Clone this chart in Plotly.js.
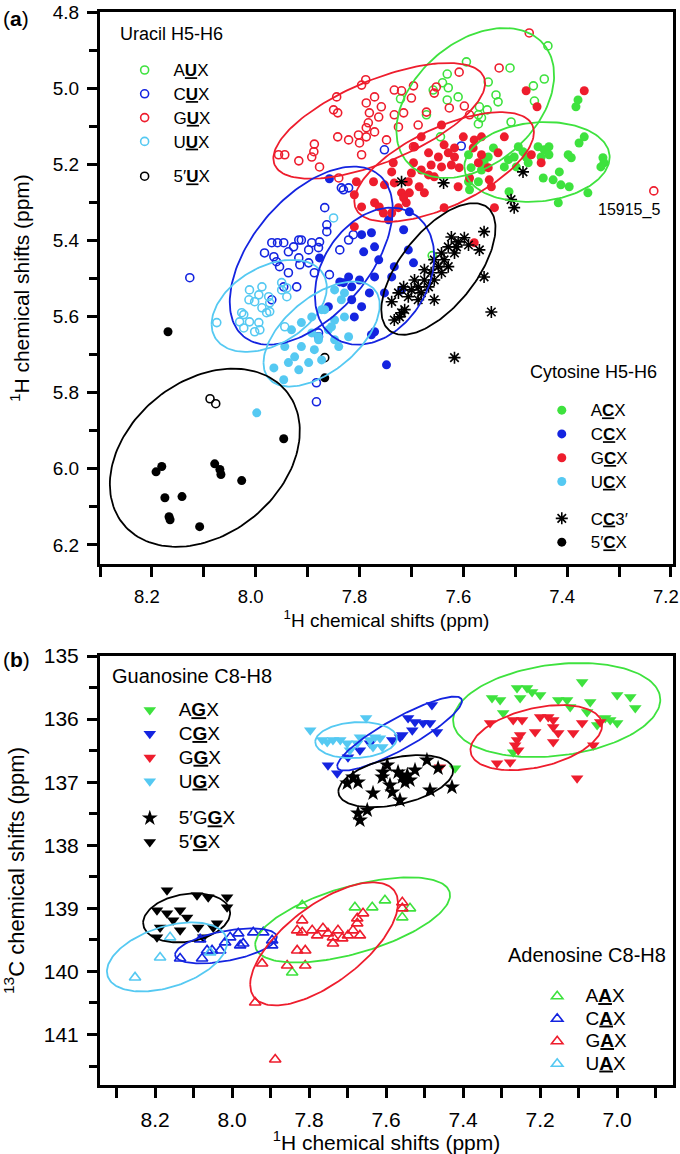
<!DOCTYPE html>
<html>
<head>
<meta charset="utf-8">
<script src="https://cdn.plot.ly/plotly-3.0.1.min.js"></script>
<style>
  body { margin: 0; background: white; }
  #chart { width: 680px; height: 1154px; }
</style>
</head>
<body>
<div id="chart"></div>
<script>
// ---- panel (a): uracil H5-H6 (open circles) ----
const aux_x = [7.594,7.437,7.631,7.640,7.629,7.610,7.631,7.552,7.537,7.533,7.510,7.465,7.444,7.463,7.569,7.554,7.571,7.565,7.571,7.508,7.644,7.671,7.721,7.658,7.660];
const aux_y = [4.931,4.889,4.963,4.986,4.999,5.023,5.031,4.984,5.018,5.036,4.947,4.994,4.976,5.034,5.049,5.057,5.070,5.078,5.094,5.089,5.128,5.070,5.028,5.005,5.440];
const cux_x = [7.835,7.821,7.867,7.863,7.863,7.969,7.958,7.946,7.983,7.965,7.960,7.937,7.927,7.917,7.912,7.898,7.892,7.877,7.879,7.917,7.898,7.915,7.937,7.887,7.858,7.921,8.127,7.954,7.838,7.879,7.946,7.969,7.883,7.883,7.879,7.752,7.604,7.831,7.812,7.821];
const cux_y = [5.262,5.262,5.314,5.359,5.377,5.406,5.406,5.406,5.433,5.443,5.456,5.430,5.417,5.399,5.399,5.425,5.406,5.404,5.419,5.446,5.459,5.464,5.485,5.485,5.490,5.522,5.498,5.469,5.425,5.643,5.522,5.556,5.774,5.824,5.653,5.162,5.152,5.267,5.385,5.399];
const gux_x = [7.844,7.850,7.842,7.842,7.887,7.888,7.892,7.956,7.944,7.917,7.877,7.840,7.473,7.531,7.608,7.788,7.796,7.733,7.719,7.696,7.652,7.656,7.771,7.787,7.758,7.700,7.671,7.627,7.598,7.715,7.733,7.781,7.763,7.783,7.787,7.802,7.821,7.800,7.787,7.771,7.748,7.687,7.696,7.796,7.725,7.588,7.233];
const gux_y = [5.023,5.057,5.065,5.128,5.147,5.167,5.181,5.175,5.175,5.191,5.207,5.236,4.855,4.947,4.958,4.978,4.992,5.005,5.007,4.994,4.997,5.013,5.023,5.039,5.049,5.026,5.063,5.052,5.047,5.065,5.070,5.065,5.076,5.091,5.104,5.123,5.136,5.144,5.128,5.115,5.136,5.097,5.154,5.175,5.102,5.070,5.270];
const uux_x = [8.012,7.994,7.975,7.950,7.940,8.013,8.002,7.973,7.988,7.979,8.023,8.012,8.031,7.994,8.075,8.023,8.002,7.850,7.950,7.988,7.940,8.027,7.973,7.992,7.944];
const uux_y = [5.530,5.543,5.548,5.530,5.548,5.556,5.561,5.564,5.577,5.590,5.595,5.614,5.614,5.616,5.616,5.630,5.640,5.341,5.511,5.522,5.525,5.590,5.587,5.635,5.627];
const u5_x = [8.088,8.077,7.867];
const u5_y = [5.816,5.829,5.708];

// ---- panel (a): cytosine H5-H6 (filled circles, asterisks) ----
const acx_x = [7.379,7.383,7.367,7.377,7.456,7.444,7.435,7.435,7.450,7.398,7.392,7.331,7.329,7.335,7.415,7.446,7.427,7.412,7.396,7.360,7.417,7.512,7.494,7.485,7.479,7.502,7.513,7.521,7.498,7.542,7.552,7.560,7.565,7.590,7.585,7.590,7.571,7.588,7.475];
const acx_y = [5.031,5.049,5.128,5.144,5.154,5.162,5.154,5.175,5.181,5.175,5.183,5.183,5.196,5.207,5.220,5.236,5.241,5.254,5.259,5.275,5.301,5.272,5.154,5.167,5.181,5.181,5.188,5.207,5.207,5.157,5.181,5.196,5.215,5.175,5.209,5.246,5.246,5.267,5.196];
const ccx_x = [7.858,7.838,7.877,7.860,7.704,7.715,7.744,7.796,7.777,7.792,7.771,7.763,7.733,7.706,7.696,7.738,7.771,7.800,7.815,7.831,7.752,7.719,7.781,7.771,7.777,7.748,7.815,7.796,7.810,7.821];
const ccx_y = [5.238,5.509,5.446,5.574,5.325,5.372,5.346,5.385,5.380,5.430,5.417,5.451,5.469,5.425,5.459,5.496,5.496,5.504,5.522,5.511,5.538,5.530,5.538,5.640,5.648,5.727,5.556,5.574,5.601,5.496];
const gcx_x = [7.479,7.458,7.367,7.600,7.579,7.565,7.521,7.533,7.565,7.581,7.571,7.552,7.550,7.546,7.540,7.450,7.469,7.617,7.617,7.637,7.629,7.623,7.642,7.648,7.642,7.681,7.694,7.667,7.662,7.681,7.667,7.696,7.700,7.706,7.685,7.675,7.704,7.719,7.715,7.710,7.725,7.738,7.733,7.752,7.771,7.762,7.754,7.738,7.773,7.806,7.810,7.796,7.810,7.735,7.608,7.588,7.637,7.656,7.610,7.579];
const gcx_y = [5.007,5.049,5.007,5.128,5.136,5.128,5.128,5.170,5.175,5.157,5.196,5.209,5.241,5.259,5.314,5.196,5.175,5.181,5.157,5.149,5.170,5.202,5.207,5.181,5.097,5.128,5.154,5.170,5.202,5.215,5.228,5.196,5.223,5.246,5.259,5.275,5.275,5.275,5.288,5.301,5.314,5.220,5.249,5.254,5.301,5.312,5.328,5.328,5.246,5.246,5.280,5.312,5.364,5.196,5.209,5.236,5.314,5.233,5.259,5.406];
const ucx_x = [7.944,7.931,7.912,7.892,7.873,7.937,7.917,7.898,7.887,7.879,7.860,7.848,7.965,7.946,7.873,7.848,7.998,7.892,7.925,7.912,7.829,7.867,7.835,7.829,7.854,7.879,7.840,7.821,7.848];
const ucx_y = [5.679,5.635,5.616,5.601,5.582,5.721,5.740,5.721,5.687,5.661,5.635,5.609,5.735,5.766,5.714,5.661,5.853,5.643,5.706,5.679,5.538,5.582,5.556,5.601,5.627,5.653,5.679,5.653,5.530];
const cc3_x = [7.719,7.638,7.485,7.508,7.502,7.560,7.569,7.560,7.546,7.656,7.738,7.719,7.623,7.610,7.598,7.629,7.642,7.617,7.637,7.648,7.629,7.662,7.642,7.675,7.656,7.687,7.667,7.700,7.681,7.706,7.687,7.725,7.715,7.694,7.675,7.656,7.613,7.590,7.723,7.733,7.713,7.617];
const cc3_y = [5.246,5.249,5.220,5.293,5.314,5.377,5.425,5.496,5.588,5.556,5.561,5.590,5.391,5.404,5.393,5.417,5.433,5.433,5.451,5.469,5.469,5.485,5.485,5.504,5.504,5.522,5.522,5.530,5.538,5.548,5.556,5.538,5.522,5.504,5.477,5.451,5.417,5.412,5.601,5.609,5.582,5.708];
const c5_x = [8.169,7.867,8.192,8.181,8.175,8.142,8.167,8.165,8.108,8.079,8.069,8.067,8.027,7.946];
const c5_y = [5.640,5.761,6.008,5.994,6.076,6.073,6.126,6.134,6.152,5.987,6.002,6.015,6.031,5.921];

// ---- panel (b): guanosine C8-H8 (filled down triangles, stars) ----
const agx_x = [7.325,7.304,7.260,7.234,7.221,7.200,7.252,7.091,7.153,7.130,7.122,7.070,7.000,6.966,6.953,7.078,7.031,7.018,7.000,7.052,7.421,7.296,7.270];
const agx_y = [135.667,135.698,135.508,135.508,135.571,135.619,135.667,135.413,135.698,135.698,135.810,135.730,135.619,135.651,135.825,135.889,135.984,136.016,136.063,136.095,136.778,135.905,136.524];
const cgx_x = [7.481,7.543,7.525,7.504,7.486,7.468,7.532,7.558,7.584,7.642,7.668,7.699,7.751,7.727,7.564];
const cgx_y = [135.778,135.984,136.048,136.063,136.063,136.206,136.175,136.254,136.333,136.381,136.492,136.603,136.730,136.857,136.286];
const ggx_x = [7.330,7.270,7.247,7.200,7.179,7.166,7.213,7.252,7.260,7.265,7.257,7.166,7.153,7.166,7.114,7.091,7.044,7.062,7.312,7.278,7.104,7.460];
const ggx_y = [136.063,136.016,136.016,135.968,135.968,136.016,136.206,136.254,136.333,136.413,136.492,136.127,136.222,136.365,136.222,136.063,136.048,136.413,136.698,136.683,136.937,136.762];
const ugx_x = [7.797,7.652,7.753,7.738,7.719,7.701,7.675,7.642,7.616,7.634,7.610,7.766,7.629,7.668,7.694];
const ugx_y = [136.175,135.984,136.365,136.333,136.333,136.381,136.381,136.333,136.302,136.444,136.444,136.333,136.286,136.286,136.492];
const g5g_x = [7.686,7.673,7.608,7.597,7.569,7.558,7.545,7.538,7.551,7.525,7.590,7.584,7.634,7.564,7.494,7.465,7.486,7.429,7.649,7.668,7.701,7.610,7.673];
const g5g_y = [136.921,137.000,136.841,136.730,136.841,136.921,136.889,136.968,137.000,136.810,137.048,137.159,137.175,137.286,136.651,136.778,137.127,137.079,137.444,137.603,137.016,136.921,137.492];
const g5_x = [8.169,8.091,8.062,8.013,8.013,8.195,8.169,8.135,8.153,8.117,8.088,8.049,8.187,8.135,8.195,8.075,8.039];
const g5_y = [138.714,138.794,138.825,138.825,138.984,139.032,139.079,139.032,139.190,139.143,139.302,139.302,139.302,139.349,139.460,139.460,139.238];

// ---- panel (b): adenosine C8-H8 (open up triangles) ----
const aax_x = [7.818,7.681,7.636,7.603,7.538,7.558,7.844];
const aax_y = [138.952,138.984,138.984,138.873,139.000,139.143,140.016];
const cax_x = [8.135,8.083,8.078,8.052,8.031,8.018,8.005,7.984,7.971,7.945,7.919,7.896,7.896,8.065,7.979];
const cax_y = [139.794,139.492,139.794,139.667,139.667,139.540,139.460,139.397,139.556,139.381,139.381,139.508,139.587,139.667,139.587];
const gax_x = [7.818,7.831,7.818,7.792,7.779,7.764,7.751,7.738,7.725,7.714,7.699,7.686,7.675,7.675,7.660,7.668,7.738,7.831,7.810,7.922,7.857,7.810,7.940,7.888,7.558,7.558];
const gax_y = [139.190,139.349,139.381,139.349,139.429,139.317,139.397,139.460,139.349,139.476,139.429,139.349,139.238,139.159,139.079,139.429,139.556,139.667,139.667,139.873,139.905,139.905,140.492,141.397,138.905,139.000];
const uax_x = [8.252,8.187,8.161,8.057];
const uax_y = [140.095,139.778,139.460,139.698];

// ellipses: [centre x, centre y, x spread, y spread, correlation]
const ell_aux = [7.577, 5.039, 0.152, 0.197, 0.37];
const ell_gux = [7.762, 5.086, 0.204, 0.152, 0.65];
const ell_cux = [7.893, 5.440, 0.157, 0.234, 0.52];
const ell_uux = [7.974, 5.572, 0.111, 0.121, 0.40];
const ell_acx = [7.458, 5.194, 0.140, 0.105, 0.12];
const ell_gcx = [7.637, 5.207, 0.173, 0.144, 0.63];
const ell_ccx = [7.771, 5.494, 0.115, 0.180, 0.28];
const ell_ucx = [7.873, 5.646, 0.112, 0.138, 0.55];
const ell_cc3 = [7.648, 5.475, 0.110, 0.173, 0.62];
const ell_c5  = [8.098, 5.971, 0.183, 0.234, 0.30];
const ell_agx = [7.157, 135.857, 0.269, 0.746, 0.22];
const ell_ggx = [7.210, 136.294, 0.171, 0.516, 0.38];
const ell_cgx = [7.565, 136.230, 0.162, 0.587, 0.88];
const ell_ugx = [7.678, 136.333, 0.106, 0.286, 0.10];
const ell_g5g = [7.575, 136.984, 0.149, 0.413, 0.40];
const ell_g5  = [8.118, 139.151, 0.113, 0.389, 0.20];
const ell_aax = [7.687, 139.183, 0.253, 0.675, 0.58];
const ell_cax = [8.016, 139.595, 0.132, 0.278, 0.50];
const ell_gax = [7.761, 139.563, 0.192, 0.976, 0.66];
const ell_uax = [8.169, 139.770, 0.156, 0.548, 0.42];

const GREEN = '#3ee23e', BLUE = '#1424e0', RED = '#ee1d2d', CYAN = '#55c9f2', BLACK = '#000000';
const FONT = 'Liberation Sans, Arial, Helvetica, sans-serif';
const NB = '\u00a0\u00a0';

function pts(x, y, name, symbol, color, size, legend, group, panel, textSize) {
  const open = symbol.indexOf('open') >= 0;
  return {
    x: x, y: y, type: 'scatter', mode: 'markers',
    name: NB + '<span style="font-size:' + textSize + 'px">' + name + '</span>',
    xaxis: panel === 'b' ? 'x2' : 'x', yaxis: panel === 'b' ? 'y2' : 'y',
    legend: legend, legendgroup: group,
    marker: { symbol: symbol, color: color, size: size,
              line: { color: color, width: open ? 1.6 : 0 } },
    hoverinfo: 'x+y'
  };
}

function ell(p, color, panel) {
  const cx = p[0], cy = p[1], sx = p[2], sy = p[3], r = p[4];
  const q = Math.sqrt(1 - r * r);
  const xs = [], ys = [];
  for (let i = 0; i <= 160; i++) {
    const t = 2 * Math.PI * i / 160;
    xs.push(cx + sx * Math.cos(t));
    ys.push(cy + sy * (r * Math.cos(t) + q * Math.sin(t)));
  }
  return { x: xs, y: ys, type: 'scatter', mode: 'lines', showlegend: false,
           hoverinfo: 'skip', line: { color: color, width: 1.8 },
           xaxis: panel === 'b' ? 'x2' : 'x', yaxis: panel === 'b' ? 'y2' : 'y' };
}

const data = [
  // uracil legend
  pts(aux_x, aux_y, 'A<b><u>U</u></b>X', 'circle-open', GREEN, 8, 'legend', 'u1', 'a', 17),
  pts(cux_x, cux_y, 'C<b><u>U</u></b>X', 'circle-open', BLUE, 8, 'legend', 'u1', 'a', 17),
  pts(gux_x, gux_y, 'G<b><u>U</u></b>X', 'circle-open', RED, 8, 'legend', 'u1', 'a', 17),
  pts(uux_x, uux_y, 'U<b><u>U</u></b>X', 'circle-open', CYAN, 8, 'legend', 'u1', 'a', 17),
  pts(u5_x, u5_y, '5\u2032<b><u>U</u></b>X', 'circle-open', BLACK, 8, 'legend', 'u2', 'a', 17),
  // cytosine legend
  pts(acx_x, acx_y, 'A<b><u>C</u></b>X', 'circle', GREEN, 9, 'legend2', 'c1', 'a', 17),
  pts(ccx_x, ccx_y, 'C<b><u>C</u></b>X', 'circle', BLUE, 9, 'legend2', 'c1', 'a', 17),
  pts(gcx_x, gcx_y, 'G<b><u>C</u></b>X', 'circle', RED, 9, 'legend2', 'c1', 'a', 17),
  pts(ucx_x, ucx_y, 'U<b><u>C</u></b>X', 'circle', CYAN, 9, 'legend2', 'c1', 'a', 17),
  pts(cc3_x, cc3_y, 'C<b><u>C</u></b>3\u2032', 'asterisk-open', BLACK, 10, 'legend2', 'c2', 'a', 17),
  pts(c5_x, c5_y, '5\u2032<b><u>C</u></b>X', 'circle', BLACK, 9, 'legend2', 'c2', 'a', 17),
  // guanosine legend
  pts(agx_x, agx_y, 'A<b><u>G</u></b>X', 'triangle-down', GREEN, 11, 'legend3', 'g1', 'b', 19),
  pts(cgx_x, cgx_y, 'C<b><u>G</u></b>X', 'triangle-down', BLUE, 11, 'legend3', 'g1', 'b', 19),
  pts(ggx_x, ggx_y, 'G<b><u>G</u></b>X', 'triangle-down', RED, 11, 'legend3', 'g1', 'b', 19),
  pts(ugx_x, ugx_y, 'U<b><u>G</u></b>X', 'triangle-down', CYAN, 11, 'legend3', 'g1', 'b', 19),
  pts(g5g_x, g5g_y, '5\u2032G<b><u>G</u></b>X', 'star', BLACK, 12, 'legend3', 'g2', 'b', 19),
  pts(g5_x, g5_y, '5\u2032<b><u>G</u></b>X', 'triangle-down', BLACK, 11, 'legend3', 'g2', 'b', 19),
  // adenosine legend
  pts(aax_x, aax_y, 'A<b><u>A</u></b>X', 'triangle-up-open', GREEN, 10, 'legend4', 'a1', 'b', 19),
  pts(cax_x, cax_y, 'C<b><u>A</u></b>X', 'triangle-up-open', BLUE, 10, 'legend4', 'a1', 'b', 19),
  pts(gax_x, gax_y, 'G<b><u>A</u></b>X', 'triangle-up-open', RED, 10, 'legend4', 'a1', 'b', 19),
  pts(uax_x, uax_y, 'U<b><u>A</u></b>X', 'triangle-up-open', CYAN, 10, 'legend4', 'a1', 'b', 19),
  // ellipses
  ell(ell_aux, GREEN, 'a'), ell(ell_gux, RED, 'a'), ell(ell_cux, BLUE, 'a'), ell(ell_uux, CYAN, 'a'),
  ell(ell_acx, GREEN, 'a'), ell(ell_gcx, RED, 'a'), ell(ell_ccx, BLUE, 'a'), ell(ell_ucx, CYAN, 'a'),
  ell(ell_cc3, BLACK, 'a'), ell(ell_c5, BLACK, 'a'),
  ell(ell_agx, GREEN, 'b'), ell(ell_ggx, RED, 'b'), ell(ell_cgx, BLUE, 'b'), ell(ell_ugx, CYAN, 'b'),
  ell(ell_g5g, BLACK, 'b'), ell(ell_g5, BLACK, 'b'),
  ell(ell_aax, GREEN, 'b'), ell(ell_cax, BLUE, 'b'), ell(ell_gax, RED, 'b'), ell(ell_uax, CYAN, 'b')
];

function axis(extra) {
  return Object.assign({
    showgrid: false, zeroline: false, showline: true, mirror: true,
    linecolor: 'black', linewidth: 3, ticks: 'outside', ticklen: 10,
    tickwidth: 2.5, tickcolor: 'black', autorange: false, fixedrange: true,
    ticklabeloverflow: 'allow'
  }, extra);
}

function legendBox(x, y, gap, size) {
  return { x: x, y: y, xanchor: 'left', yanchor: 'top', bgcolor: 'rgba(0,0,0,0)',
           font: { family: FONT, size: size, color: 'black' },
           traceorder: 'grouped', tracegroupgap: gap, itemclick: false, itemdoubleclick: false };
}

const layout = {
  width: 680, height: 1154,
  margin: { l: 100, r: 7, t: 12, b: 69 },
  paper_bgcolor: 'white', plot_bgcolor: 'white',
  font: { family: FONT, color: 'black', size: 18 },
  showlegend: true,
  xaxis: axis({ domain: [0, 1], anchor: 'y', range: [8.3, 7.196], tick0: 7.2, dtick: 0.2, tickformat: '.1f',
    minor: { dtick: 0.1, tick0: 7.2, ticklen: 10, tickwidth: 2.5, tickcolor: 'black', ticks: 'outside' },
    tickfont: { size: 18.5 }, ticklabelstandoff: 4, ticklabelshift: 5,
    title: { text: '<sup>1</sup>H chemical shifts (ppm)', font: { size: 19 }, standoff: 6 } }),
  yaxis: axis({ domain: [0.4856, 1], anchor: 'x', range: [6.25, 4.8], tick0: 4.8, dtick: 0.2, tickformat: '.1f',
    minor: { dtick: 0.1, tick0: 4.8, ticklen: 8, tickwidth: 2.5, tickcolor: 'black', ticks: 'outside' },
    tickfont: { size: 19 }, ticklabelstandoff: 4,
    title: { text: '<sup>1</sup>H chemical shifts (ppm)', font: { size: 21 }, standoff: 18 } }),
  xaxis2: axis({ domain: [0, 1], anchor: 'y2', range: [8.343, 6.855], tick0: 7.0, dtick: 0.2, tickformat: '.1f',
    minor: { dtick: 0.1, tick0: 7.0, ticklen: 10, tickwidth: 2.5, tickcolor: 'black', ticks: 'outside' },
    tickfont: { size: 21 }, ticklabelstandoff: 4,
    title: { text: '<sup>1</sup>H chemical shifts (ppm)', font: { size: 21 }, standoff: 6 } }),
  yaxis2: axis({ domain: [0, 0.3998], anchor: 'x2', range: [141.8, 135], tick0: 135, dtick: 1, tickformat: 'd',
    minor: { dtick: 0.5, tick0: 135, ticklen: 8, tickwidth: 2.5, tickcolor: 'black', ticks: 'outside' },
    tickfont: { size: 21 }, ticklabelstandoff: 4,
    title: { text: '<sup>13</sup>C chemical shifts (ppm)', font: { size: 22 }, standoff: 14 } }),
  legend: legendBox(0.043, 0.9617, 11, 16),
  legend2: legendBox(0.771, 0.6447, 13, 16),
  legend3: legendBox(0.052, 0.3653, 13, 16),
  legend4: legendBox(0.763, 0.0979, 13, 15),
  annotations: [
    { text: '(<b>a</b>)', xref: 'paper', yref: 'paper', x: -0.172, y: 0.9935, xanchor: 'left', yanchor: 'middle', showarrow: false, font: { size: 21 } },
    { text: '(<b>b</b>)', xref: 'paper', yref: 'paper', x: -0.172, y: 0.3966, xanchor: 'left', yanchor: 'middle', showarrow: false, font: { size: 21 } },
    { text: 'Uracil H5-H6', xref: 'paper', yref: 'paper', x: 0.0314, y: 0.9795, xanchor: 'left', yanchor: 'middle', showarrow: false, font: { size: 18 } },
    { text: 'Cytosine H5-H6', xref: 'paper', yref: 'paper', x: 0.747, y: 0.6645, xanchor: 'left', yanchor: 'middle', showarrow: false, font: { size: 18 } },
    { text: 'Guanosine C8-H8', xref: 'paper', yref: 'paper', x: 0.0175, y: 0.3812, xanchor: 'left', yanchor: 'middle', showarrow: false, font: { size: 20 } },
    { text: 'Adenosine C8-H8', xref: 'paper', yref: 'paper', x: 0.7086, y: 0.1212, xanchor: 'left', yanchor: 'middle', showarrow: false, font: { size: 20 } },
    { text: '15915_5', xref: 'x', yref: 'y', x: 7.281, y: 5.32, xanchor: 'center', yanchor: 'middle', showarrow: false, font: { size: 16 } }
  ]
};

Plotly.newPlot('chart', data, layout, { displayModeBar: false });
</script>
</body>
</html>
